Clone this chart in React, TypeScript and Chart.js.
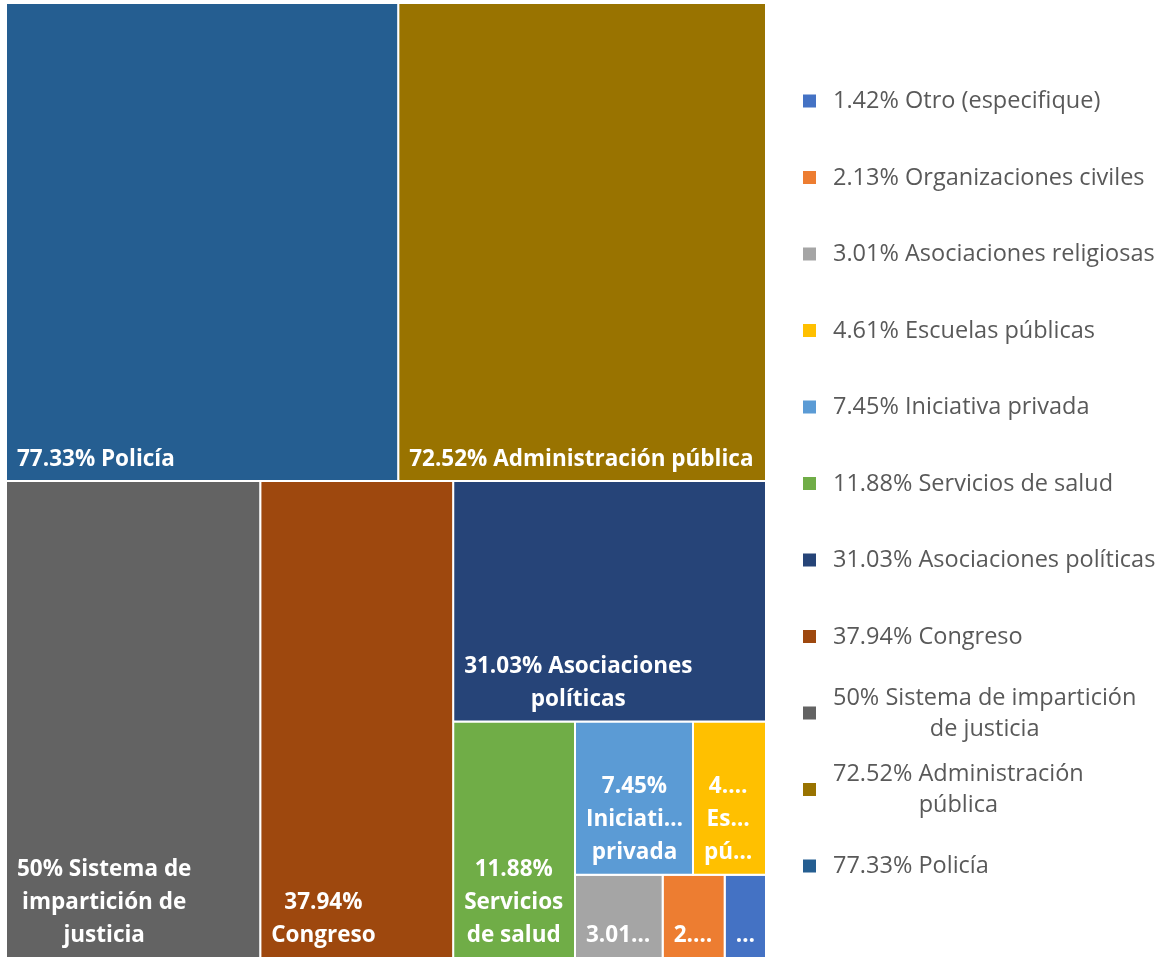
import React, { useEffect, useRef } from "react";
import { Chart, registerables } from "chart.js";

Chart.register(...registerables);

// Categories in descending order of value
const categories = [
  "Policía",
  "Administración pública",
  "Sistema de impartición de justicia",
  "Congreso",
  "Asociaciones políticas",
  "Servicios de salud",
  "Iniciativa privada",
  "Escuelas públicas",
  "Asociaciones religiosas",
  "Organizaciones civiles",
  "Otro (especifique)",
];
const values = [77.33, 72.52, 50, 37.94, 31.03, 11.88, 7.45, 4.61, 3.01, 2.13, 1.42];
const colors = [
  "#255E91",
  "#997300",
  "#636363",
  "#9E480E",
  "#264478",
  "#70AD47",
  "#5B9BD5",
  "#FFC000",
  "#A5A5A5",
  "#ED7D31",
  "#4472C4",
];

// Text shown inside each tile (as wrapped / truncated in the reference)
const tileLabels = [
  ["77.33% Policía"],
  ["72.52% Administración pública"],
  ["50% Sistema de", "impartición de", "justicia"],
  ["37.94%", "Congreso"],
  ["31.03% Asociaciones", "políticas"],
  ["11.88%", "Servicios", "de salud"],
  ["7.45%", "Iniciati…", "privada"],
  ["4.…", "Es…", "pú…"],
  ["3.01…"],
  ["2.…"],
  ["…"],
];

// Legend text lines (legend lists smallest first)
const legendLabels = [
  ["1.42% Otro (especifique)"],
  ["2.13% Organizaciones civiles"],
  ["3.01% Asociaciones religiosas"],
  ["4.61% Escuelas públicas"],
  ["7.45% Iniciativa privada"],
  ["11.88% Servicios de salud"],
  ["31.03% Asociaciones políticas"],
  ["37.94% Congreso"],
  ["50% Sistema de impartición", "de justicia"],
  ["72.52% Administración", "pública"],
  ["77.33% Policía"],
];

// Treemap strip structure: number of items per strip and strip direction
const stripCounts = [2, 1, 1, 1, 1, 2, 3];
const stripDirs = ["row", "col", "col", "row", "col", "row", "row"];

type Rect = { x0: number; y0: number; x1: number; y1: number };

function layout(vals: number[]): Rect[] {
  const rects: Rect[] = [];
  let rx = 0, ry = 0, rw = 1, rh = 1;
  let remaining = vals.reduce((a, b) => a + b, 0);
  let idx = 0;
  stripCounts.forEach((count, si) => {
    const items = vals.slice(idx, idx + count);
    const s = items.reduce((a, b) => a + b, 0);
    if (stripDirs[si] === "row") {
      const sh = (rh * s) / remaining;
      let cx = rx;
      items.forEach((v) => {
        const w = (rw * v) / s;
        rects.push({ x0: cx, y0: ry, x1: cx + w, y1: ry + sh });
        cx += w;
      });
      ry += sh;
      rh -= sh;
    } else {
      const sw = (rw * s) / remaining;
      let cy = ry;
      items.forEach((v) => {
        const h = (rh * v) / s;
        rects.push({ x0: rx, y0: cy, x1: rx + sw, y1: cy + h });
        cy += h;
      });
      rx += sw;
      rw -= sw;
    }
    remaining -= s;
    idx += count;
  });
  return rects;
}

const LABEL_FONT = "bold 22.5px 'Open Sans'";
const LEGEND_FONT = "23.5px 'Open Sans'";

export default function App() {
  const ref = useRef<HTMLCanvasElement>(null);
  useEffect(() => {
    if (!ref.current) return;
    const rects = layout(values);
    const datasets = rects.map((r, i) => ({
      label: categories[i],
      data: [
        { x: r.x0, y: r.y0 },
        { x: r.x1, y: r.y0 },
        { x: r.x1, y: r.y1 },
        { x: r.x0, y: r.y1 },
        { x: r.x0, y: r.y0 },
      ],
      showLine: true,
      fill: "shape",
      backgroundColor: colors[i],
      borderColor: "#ffffff",
      borderWidth: 2,
      pointRadius: 0,
      pointHoverRadius: 0,
      tension: 0,
      clip: false,
    }));

    const labelPlugin = {
      id: "tileLabels",
      afterDatasetsDraw(chart: any) {
        const ctx = chart.ctx;
        const xs = chart.scales.x;
        const ys = chart.scales.y;
        ctx.save();
        ctx.font = LABEL_FONT;
        ctx.fillStyle = "#ffffff";
        ctx.textBaseline = "middle";
        ctx.textAlign = "center";
        const lh = 33;
        rects.forEach((r, i) => {
          const lines = tileLabels[i];
          const left = xs.getPixelForValue(r.x0) + 11;
          const bottom = ys.getPixelForValue(r.y1);
          const maxW = Math.max(...lines.map((l) => ctx.measureText(l).width));
          const cx = left + maxW / 2;
          lines.forEach((l, k) => {
            const y = bottom - 22 - (lines.length - 1 - k) * lh;
            ctx.fillText(l, cx, y);
          });
        });
        ctx.restore();
      },
    };

    const legendPlugin = {
      id: "sideLegend",
      afterDraw(chart: any) {
        const ctx = chart.ctx;
        const area = chart.chartArea;
        const n = legendLabels.length;
        const itemH = 76.5;
        const first = (area.top + area.bottom) / 2 - (n * itemH) / 2 + itemH / 2 + 3.5;
        const boxX = area.right + 37;
        const textX = area.right + 67;
        ctx.save();
        ctx.font = LEGEND_FONT;
        ctx.textBaseline = "middle";
        ctx.textAlign = "center";
        legendLabels.forEach((lines, j) => {
          const ci = values.length - 1 - j;
          const cy = first + j * itemH;
          ctx.fillStyle = colors[ci];
          ctx.fillRect(boxX, cy - 7, 13, 13);
          ctx.fillStyle = "#595959";
          const maxW = Math.max(...lines.map((l) => ctx.measureText(l).width));
          const cx = textX + maxW / 2;
          const lh = 31;
          lines.forEach((l, k) => {
            const y = cy - ((lines.length - 1) * lh) / 2 + k * lh;
            ctx.fillText(l, cx, y);
          });
        });
        ctx.restore();
      },
    };

    const chart = new Chart(ref.current, {
      type: "scatter",
      data: { datasets: datasets as any },
      options: {
        animation: false,
        responsive: false,
        events: [],
        layout: { padding: { left: 6, top: 3, right: 400, bottom: 0 } },
        scales: {
          x: { type: "linear", min: 0, max: 1, display: false },
          y: { type: "linear", min: 0, max: 1, reverse: true, display: false },
        },
        plugins: {
          legend: { display: false },
          tooltip: { enabled: false },
          filler: { propagate: false },
        },
      },
      plugins: [labelPlugin, legendPlugin],
    });
    return () => chart.destroy();
  }, []);

  return (
    <div style={{ position: "fixed", left: 0, top: 0, width: 1166, height: 958, background: "#fff" }}>
      <canvas ref={ref} width={1166} height={958} style={{ display: "block" }} />
    </div>
  );
}
